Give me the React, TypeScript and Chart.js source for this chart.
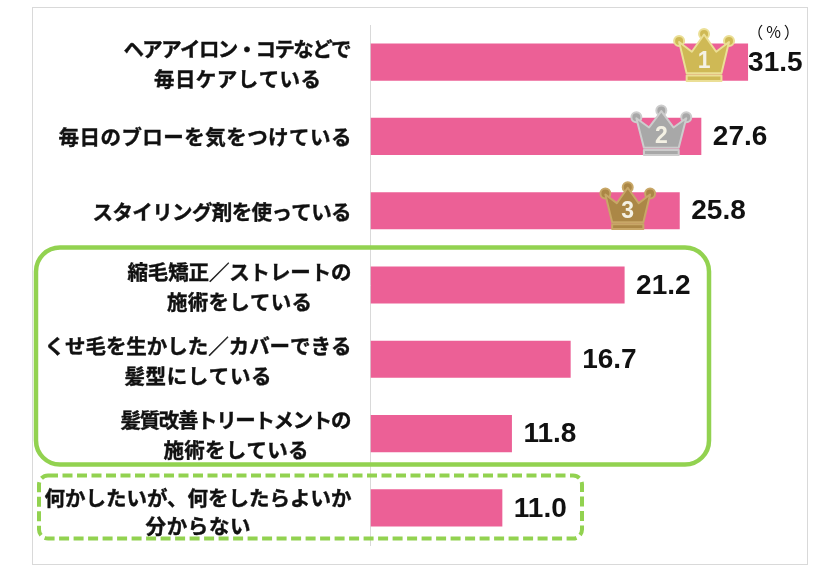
import React, { useEffect, useRef } from "react";
import { Chart, registerables } from "chart.js";

Chart.register(...registerables);

const categories: string[][] = [
  ["ヘアアイロン・コテなどで", "毎日ケアしている"],
  ["毎日のブローを気をつけている"],
  ["スタイリング剤を使っている"],
  ["縮毛矯正／ストレートの", "施術をしている"],
  ["くせ毛を生かした／カバーできる", "髪型にしている"],
  ["髪質改善トリートメントの", "施術をしている"],
  ["何かしたいが、何をしたらよいか", "分からない"],
];
const values = [31.5, 27.6, 25.8, 21.2, 16.7, 11.8, 11.0];
const valueLabels = ["31.5", "27.6", "25.8", "21.2", "16.7", "11.8", "11.0"];
const unitLabel = "（%）";

const BAR = "#EC6096";
const GREEN = "#92D250";
const GREY = "#D9D9D9";
const JP = '"Noto Sans CJK JP", sans-serif';

// rendered width of each label line and vertical nudge of each label block
const lineWidths = [[228, 167], [293], [259], [224, 145], [307, 147], [231, 145], [307, 105]];
const labelShift = [2, 1, 1, 2, 2, 2, 4];
const lineGap = [30, 30, 30, 30, 30, 30, 28];

const crowns = [
  { rank: "1", offset: -44, top: 28, w: 58, h: 54, fill: "#CFB955", edge: "#EBDF96" },
  { rank: "2", offset: -40, top: 105, w: 58, h: 51, fill: "#A8A8A8", edge: "#CDCDCD" },
  { rank: "3", offset: -52, top: 182, w: 52, h: 48, fill: "#AB8746", edge: "#C8A767" },
];

function drawCrown(ctx: CanvasRenderingContext2D, cx: number, c: (typeof crowns)[number]) {
  const X = (u: number) => cx + u * c.w;
  const Y = (v: number) => c.top + v * c.h;
  const body: [number, number][] = [
    [-0.3, 0.84], [-0.43, 0.26], [-0.21, 0.44], [0, 0.12], [0.21, 0.44], [0.43, 0.26], [0.3, 0.84],
  ];
  const balls: [number, number][] = [[-0.43, 0.24], [0, 0.11], [0.43, 0.24]];
  ctx.save();
  ctx.lineJoin = "round";
  ctx.strokeStyle = c.edge;
  ctx.fillStyle = c.fill;
  ctx.lineWidth = 2;
  balls.forEach(([u, v]) => {
    ctx.beginPath();
    ctx.arc(X(u), Y(v), 5, 0, Math.PI * 2);
    ctx.fill();
    ctx.stroke();
  });
  ctx.beginPath();
  body.forEach(([u, v], i) => (i ? ctx.lineTo(X(u), Y(v)) : ctx.moveTo(X(u), Y(v))));
  ctx.closePath();
  ctx.fill();
  ctx.stroke();
  ctx.fillRect(X(-0.3), Y(0.86), c.w * 0.6, c.h * 0.12);
  ctx.strokeRect(X(-0.3), Y(0.88), c.w * 0.6, c.h * 0.1);
  ctx.fillStyle = "#F4F1E4";
  ctx.font = 'bold 23px "Liberation Sans", sans-serif';
  ctx.textAlign = "center";
  ctx.textBaseline = "middle";
  ctx.fillText(c.rank, cx, Y(0.62));
  ctx.restore();
}

const overlay = {
  id: "overlay",
  beforeDatasetsDraw(chart: any) {
    const ctx: CanvasRenderingContext2D = chart.ctx;
    ctx.save();
    ctx.strokeStyle = GREY;
    ctx.lineWidth = 1;
    ctx.strokeRect(32.5, 7.5, 775, 557);
    ctx.restore();
  },
  afterDatasetsDraw(chart: any) {
    const ctx: CanvasRenderingContext2D = chart.ctx;
    const xs = chart.scales.x;
    const ys = chart.scales.y;
    ctx.save();

    categories.forEach((lines, i) => {
      const cy = ys.getPixelForValue(i) + labelShift[i];
      ctx.font = `bold 20.5px ${JP}`;
      ctx.fillStyle = "#111";
      ctx.strokeStyle = "#111";
      ctx.lineWidth = 0.4;
      ctx.textBaseline = "middle";
      ctx.textAlign = "left";
      const widest = Math.max(...lineWidths[i]);
      const mid = 351.5 - widest / 2;
      lines.forEach((l, j) => {
        (ctx as any).letterSpacing = "0px";
        const natural = ctx.measureText(l).width;
        const target = lineWidths[i][j];
        (ctx as any).letterSpacing = `${(target - natural) / Math.max(1, l.length - 1)}px`;
        const x = mid - target / 2;
        const y = cy + (j - (lines.length - 1) / 2) * lineGap[i];
        ctx.fillText(l, x, y);
        ctx.strokeText(l, x, y);
      });
      (ctx as any).letterSpacing = "0px";
    });

    ctx.font = 'bold 28px "Liberation Sans", sans-serif';
    ctx.fillStyle = "#111";
    ctx.textAlign = "left";
    ctx.textBaseline = "middle";
    values.forEach((v, i) => {
      const gap = i === 0 ? 0 : 11.5;
      ctx.fillText(valueLabels[i], xs.getPixelForValue(v) + gap, ys.getPixelForValue(i) + 1);
    });

    ctx.font = `16px ${JP}`;
    ctx.textAlign = "center";
    (ctx as any).letterSpacing = "3px";
    ctx.fillText(unitLabel, 775, 32);
    (ctx as any).letterSpacing = "0px";

    crowns.forEach((c, i) => drawCrown(ctx, xs.getPixelForValue(values[i]) + c.offset, c));

    ctx.strokeStyle = GREEN;
    ctx.lineWidth = 4.5;
    ctx.beginPath();
    ctx.roundRect(36, 247.5, 673, 217, 24);
    ctx.stroke();

    ctx.lineWidth = 4;
    ctx.setLineDash([10, 4.5]);
    ctx.beginPath();
    ctx.roundRect(39, 475.5, 543, 63, 9);
    ctx.stroke();
    ctx.restore();
  },
};

export default function App() {
  const ref = useRef<HTMLCanvasElement>(null);
  useEffect(() => {
    const chart = new Chart(ref.current!, {
      type: "bar",
      data: {
        labels: categories.map((c) => c.join("")),
        datasets: [
          {
            data: values,
            backgroundColor: BAR,
            barPercentage: 0.5,
            categoryPercentage: 1,
          },
        ],
      },
      options: {
        indexAxis: "y",
        animation: false,
        responsive: false,
        layout: { padding: { left: 362.5, top: 25, right: 25, bottom: 28 } },
        plugins: { legend: { display: false }, tooltip: { enabled: false } },
        scales: {
          x: { display: false, min: 0, max: 36 },
          y: {
            ticks: { display: false },
            grid: { display: false },
            border: { color: GREY, width: 1 },
          },
        },
      },
      plugins: [overlay],
    });
    return () => chart.destroy();
  }, []);
  return (
    <div style={{ position: "fixed", left: 0, top: 0, width: 827, height: 573, background: "#fff" }}>
      <canvas ref={ref} width={827} height={573} style={{ display: "block" }} />
    </div>
  );
}
